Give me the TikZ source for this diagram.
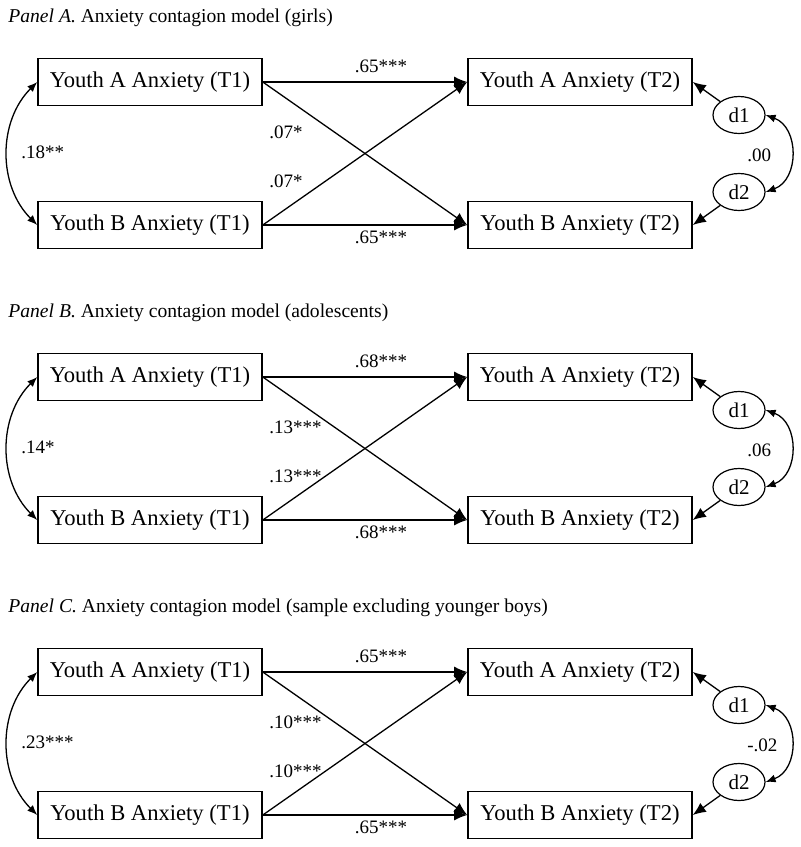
\documentclass[tikz,border=0pt]{standalone}
\usepackage{fontspec}
\setmainfont{Liberation Serif}
\usetikzlibrary{arrows.meta,shapes.geometric}
\tikzset{
  var/.style={draw, line width=0.8pt, minimum width=112pt, minimum height=23.5pt, inner sep=0pt, font=\fontsize{11.3}{13}\selectfont},
  err/.style={draw, ellipse, line width=0.6pt, minimum width=26pt, minimum height=18.5pt, inner sep=0pt, font=\fontsize{10.5}{12}\selectfont},
  reg/.style={-{Latex[length=6.5pt,width=5.5pt]}, line width=0.65pt},
  cov/.style={{Latex[length=5pt,width=4pt]}-{Latex[length=5pt,width=4pt]}, line width=0.65pt},
  coef/.style={font=\fontsize{9.5}{11}\selectfont, inner sep=0pt},
  paneltitle/.style={font=\fontsize{9.8}{12}\selectfont, inner sep=0pt, anchor=base west},
}
\begin{document}
\begin{tikzpicture}[x=0.5pt, y=0.5pt]
  \useasboundingbox (0,0) rectangle (800,-847);
  \foreach \o/\p/\sub/\b/\c/\r/\e in {0/A/girls/.65***/.07*/.18**/.00,
      295/B/adolescents/.68***/.13***/.14*/.06,
      590/C/sample excluding younger boys/.65***/.10***/.23***/-.02}{
    \begin{scope}[shift={(0,-\o)}]
      %% panel title
      \node[paneltitle] (t\p) at (8,-22) {\textit{Panel \p.} Anxiety contagion model (\sub)};
      %% observed variables T1, T2
      \node[var] (a1\p) at (150,-82) {Youth A Anxiety (T1)};
      \node[var] (b1\p) at (150,-225) {Youth B Anxiety (T1)};
      \node[var] (a2\p) at (580,-82) {Youth A Anxiety (T2)};
      \node[var] (b2\p) at (580,-225) {Youth B Anxiety (T2)};
      %% disturbances
      \node[err] (d1\p) at (739,-115) {d1};
      \node[err] (d2\p) at (739,-192) {d2};
      %% stability and cross paths
      \draw[reg] (a1\p.east) -- (a2\p.west);
      \draw[reg] (b1\p.east) -- (b2\p.west);
      \draw[reg] (a1\p.east) -- (b2\p.west);
      \draw[reg] (b1\p.east) -- (a2\p.west);
      \draw[reg] (d1\p) -- (a2\p.east);
      \draw[reg] (d2\p) -- (b2\p.east);
      %% covariances
      \draw[cov] (a1\p.west) to[bend right=45] (b1\p.west);
      \draw[cov] (d1\p.east) to[out=-20, in=20, looseness=1.2] (d2\p.east);
      %% coefficients
      \node[coef, anchor=base] (sa\p) at (381,-72) {\b};
      \node[coef, anchor=base] (sb\p) at (381,-243) {\b};
      \node[coef, anchor=base west] (xa\p) at (269,-138) {\c};
      \node[coef, anchor=base west] (xb\p) at (269,-187) {\c};
      \node[coef, anchor=base west] (r1\p) at (21,-158) {\r};
      \node[coef, anchor=base west] (r2\p) at (747,-161) {\e};
    \end{scope}
  }
\end{tikzpicture}
\end{document}
